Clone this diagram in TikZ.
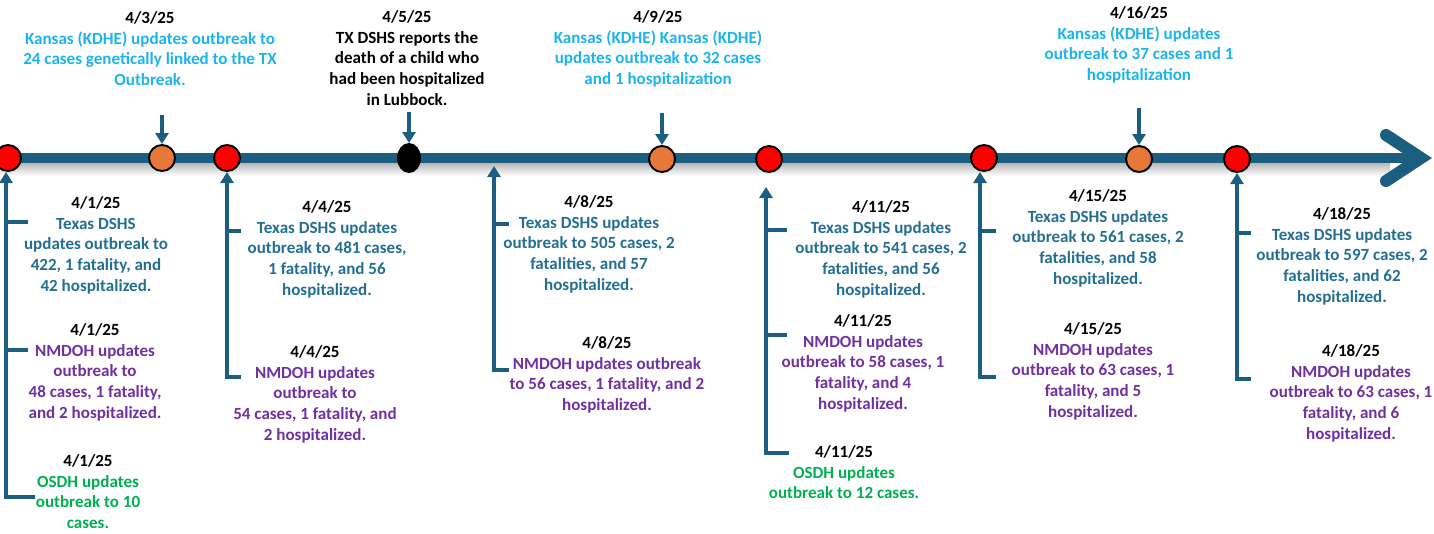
\documentclass[tikz,border=0pt]{standalone}
\usepackage{fontspec}
\setmainfont{Carlito}
\usetikzlibrary{arrows.meta, shapes.geometric, positioning}
\definecolor{lineblue}{HTML}{1B5E80}
\definecolor{dshs}{HTML}{236F93}
\definecolor{kdhe}{HTML}{1CB4EC}
\definecolor{nmdoh}{HTML}{7030A0}
\definecolor{osdh}{HTML}{00B050}
\definecolor{ptorange}{HTML}{E8783A}
\tikzstyle{pt}       = [circle, draw=black, line width=1.1pt, minimum size=5.2mm, inner sep=0pt]
\tikzstyle{redpt}    = [pt, fill=red]
\tikzstyle{orangept} = [pt, fill=ptorange]
\tikzstyle{blackpt}  = [ellipse, draw=black, line width=1.1pt, fill=black,
                        minimum width=4.4mm, minimum height=5.6mm, inner sep=0pt]
\tikzstyle{note}     = [align=center, anchor=north, inner sep=0pt,
                        font=\bfseries\fontsize{9.7}{11.8}\selectfont]
\tikzstyle{conn}     = [lineblue, line width=0.65mm, line join=miter]
\tikzstyle{uparr}    = [conn, -{Triangle[width=2.6mm,length=2.2mm]}]
\newcommand{\dte}[1]{\textcolor{black}{#1}}

\begin{document}
\begin{tikzpicture}[x=0.2mm, y=-0.2mm]
  \useasboundingbox (0,0) rectangle (1434,533);

  % timeline
  \coordinate (tl0) at (0,158);
  \coordinate (tl1) at (1421,158);
  \shade[top color=black!30, bottom color=white] (0,162) rectangle (1390,176);
  \draw[lineblue, line width=2mm] (tl0) -- (tl1);
  \draw[lineblue, line width=2.4mm, line cap=round, line join=miter]
        (1386,135) -- (tl1) -- (1386,181);

  % points on the line
  \node[redpt]    (p1)  at (8,158)    {};
  \node[orangept] (p3)  at (162,158)  {};
  \node[redpt]    (p4)  at (227,158)  {};
  \node[blackpt]  (p5)  at (409,158)  {};
  \node[orangept] (p9)  at (662,159)  {};
  \node[redpt]    (p11) at (769,159)  {};
  \node[redpt]    (p15) at (984,158)  {};
  \node[orangept] (p16) at (1139,159) {};
  \node[redpt]    (p18) at (1237,159) {};

  % events above the line
  \node[note, kdhe] (k3) at (150,11)
        {\dte{4/3/25}\\Kansas (KDHE) updates outbreak to\\24 cases genetically linked to the TX\\Outbreak.};
  \node[note] (tx5) at (407,10)
        {4/5/25\\TX DSHS reports the\\death of a child who\\had been hospitalized\\in Lubbock.};
  \node[note, kdhe] (k9) at (658,10)
        {\dte{4/9/25}\\Kansas (KDHE) Kansas (KDHE)\\updates outbreak to 32 cases\\and 1 hospitalization};
  \node[note, kdhe] (k16) at (1139,6)
        {\dte{4/16/25}\\Kansas (KDHE) updates\\outbreak to 37 cases and 1\\hospitalization};

  \coordinate (s3)  at (162,115);
  \coordinate (s5)  at (409,112);
  \coordinate (s9)  at (662,113);
  \coordinate (s16) at (1139,108);
  \draw[uparr] (s3)  -- (p3);
  \draw[uparr] (s5)  -- (p5);
  \draw[uparr] (s9)  -- (p9);
  \draw[uparr] (s16) -- (p16);

  % events below the line
  \node[note, dshs]  (d1)  at (96,196)
        {\dte{4/1/25}\\Texas DSHS\\updates outbreak to\\422, 1 fatality, and\\42 hospitalized.};
  \node[note, nmdoh] (n1)  at (95,323)
        {\dte{4/1/25}\\NMDOH updates\\outbreak to\\48 cases, 1 fatality,\\and 2 hospitalized.};
  \node[note, osdh]  (o1)  at (88,454)
        {\dte{4/1/25}\\OSDH updates\\outbreak to 10\\cases.};
  \node[note, dshs]  (d4)  at (327,200)
        {\dte{4/4/25}\\Texas DSHS updates\\outbreak to 481 cases,\\1 fatality, and 56\\hospitalized.};
  \node[note, nmdoh] (n4)  at (315,345)
        {\dte{4/4/25}\\NMDOH updates\\outbreak to\\54 cases, 1 fatality, and\\2 hospitalized.};
  \node[note, dshs]  (d8)  at (589,195)
        {\dte{4/8/25}\\Texas DSHS updates\\outbreak to 505 cases, 2\\fatalities, and 57\\hospitalized.};
  \node[note, nmdoh] (n8)  at (607,336)
        {\dte{4/8/25}\\NMDOH updates outbreak\\to 56 cases, 1 fatality, and 2\\hospitalized.};
  \node[note, dshs]  (d11) at (881,200)
        {\dte{4/11/25}\\Texas DSHS updates\\outbreak to 541 cases, 2\\fatalities, and 56\\hospitalized.};
  \node[note, nmdoh] (n11) at (863,314)
        {\dte{4/11/25}\\NMDOH updates\\outbreak to 58 cases, 1\\fatality, and 4\\hospitalized.};
  \node[note, osdh]  (o11) at (844,445)
        {\dte{4/11/25}\\OSDH updates\\outbreak to 12 cases.};
  \node[note, dshs]  (d15) at (1098,189)
        {\dte{4/15/25}\\Texas DSHS updates\\outbreak to 561 cases, 2\\fatalities, and 58\\hospitalized.};
  \node[note, nmdoh] (n15) at (1093,322)
        {\dte{4/15/25}\\NMDOH updates\\outbreak to 63 cases, 1\\fatality, and 5\\hospitalized.};
  \node[note, dshs]  (d18) at (1342,207)
        {\dte{4/18/25}\\Texas DSHS updates\\outbreak to 597 cases, 2\\fatalities, and 62\\hospitalized.};
  \node[note, nmdoh] (n18) at (1351,344)
        {\dte{4/18/25}\\NMDOH updates\\outbreak to 63 cases, 1\\fatality, and 6\\hospitalized.};

  % connectors below the line
  \coordinate (a1)  at (6,172);    \coordinate (b1)  at (6,497);    \coordinate (e1)  at (35,497);
  \coordinate (t1a) at (6,222);    \coordinate (u1a) at (28,222);
  \coordinate (t1b) at (6,350);    \coordinate (u1b) at (28,350);
  \coordinate (a4)  at (227,172);  \coordinate (b4)  at (227,377);  \coordinate (e4)  at (241,377);
  \coordinate (t4)  at (227,231);  \coordinate (u4)  at (241,231);
  \coordinate (a8)  at (494,166);  \coordinate (b8)  at (494,370);  \coordinate (e8)  at (509,370);
  \coordinate (t8)  at (494,224);  \coordinate (u8)  at (509,224);
  \coordinate (a11) at (766,187);  \coordinate (b11) at (766,453);  \coordinate (e11) at (789,453);
  \coordinate (t11a) at (766,230); \coordinate (u11a) at (787,230);
  \coordinate (t11b) at (766,335); \coordinate (u11b) at (787,335);
  \coordinate (a15) at (980,172);  \coordinate (b15) at (980,377);  \coordinate (e15) at (996,377);
  \coordinate (t15) at (980,231);  \coordinate (u15) at (996,231);
  \coordinate (a18) at (1237,173); \coordinate (b18) at (1237,379); \coordinate (e18) at (1251,379);
  \coordinate (t18) at (1237,233); \coordinate (u18) at (1251,233);

  \draw[uparr] (e1)  -- (b1)  -- (a1);
  \draw[conn]  (t1a) -- (u1a);
  \draw[conn]  (t1b) -- (u1b);
  \draw[uparr] (e4)  -- (b4)  -- (a4);
  \draw[conn]  (t4)  -- (u4);
  \draw[uparr] (e8)  -- (b8)  -- (a8);
  \draw[conn]  (t8)  -- (u8);
  \draw[uparr] (e11) -- (b11) -- (a11);
  \draw[conn]  (t11a) -- (u11a);
  \draw[conn]  (t11b) -- (u11b);
  \draw[uparr] (e15) -- (b15) -- (a15);
  \draw[conn]  (t15) -- (u15);
  \draw[uparr] (e18) -- (b18) -- (a18);
  \draw[conn]  (t18) -- (u18);
\end{tikzpicture}
\end{document}
